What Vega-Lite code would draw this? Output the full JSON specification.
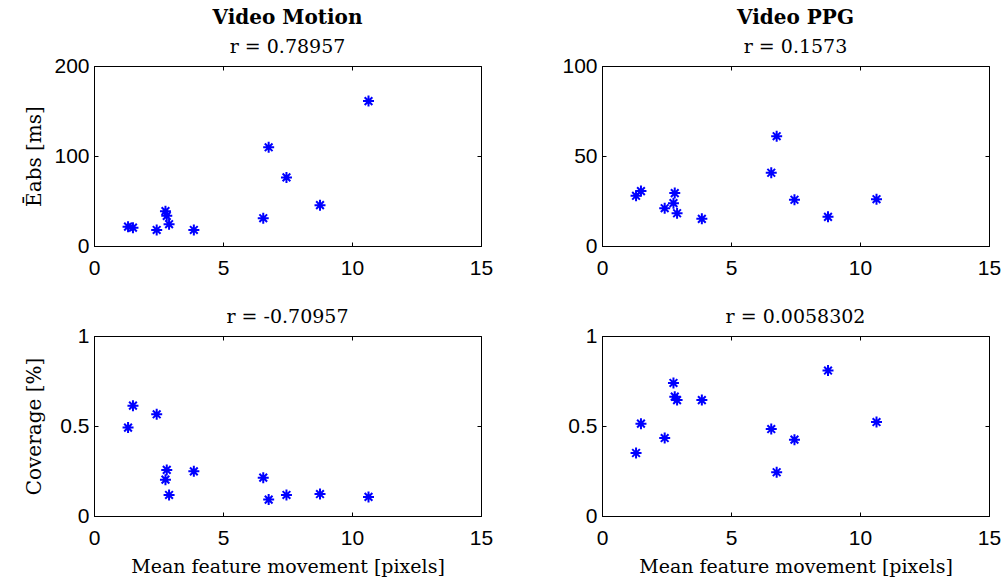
{
  "$schema": "https://vega.github.io/schema/vega-lite/v6.json",
  "background": "white",
  "padding": {"left": 23, "top": 7, "right": 5, "bottom": 2},
  "data": {"values": [
    {"x": 1.32, "em": 21.5, "ep": 27.9, "cm": 0.491, "cp": 0.350},
    {"x": 1.51, "em": 20.4, "ep": 30.5, "cm": 0.613, "cp": 0.513},
    {"x": 2.43, "em": 17.8, "ep": 21.0, "cm": 0.565, "cp": 0.433},
    {"x": 2.77, "em": 38.7, "ep": 23.8, "cm": 0.202, "cp": 0.739},
    {"x": 2.82, "em": 33.5, "ep": 29.4, "cm": 0.256, "cp": 0.663},
    {"x": 2.91, "em": 24.2, "ep": 18.2, "cm": 0.117, "cp": 0.644},
    {"x": 3.87, "em": 17.8, "ep": 15.1, "cm": 0.248, "cp": 0.644},
    {"x": 6.56, "em": 30.9, "ep": 40.7, "cm": 0.213, "cp": 0.483},
    {"x": 6.77, "em": 109.7, "ep": 61.0, "cm": 0.091, "cp": 0.243},
    {"x": 7.46, "em": 76.2, "ep": 25.7, "cm": 0.117, "cp": 0.424},
    {"x": 8.76, "em": 45.4, "ep": 16.2, "cm": 0.122, "cp": 0.808},
    {"x": 10.64, "em": 161.0, "ep": 26.0, "cm": 0.106, "cp": 0.522}
  ]},
  "columns": 2,
  "spacing": {"row": 90, "column": 121},
  "bounds": "flush",
  "concat": [
    {
      "width": 387, "height": 180,
      "title": {"text": "Video Motion", "subtitle": "r = 0.78957"},
      "layer": [
        {
          "mark": {"type": "point", "shape": "M-1,0L1,0M0,-1L0,1M-0.7,-0.7L0.7,0.7M-0.7,0.7L0.7,-0.7", "filled": false, "stroke": "#0000FF", "strokeWidth": 2, "size": 121, "opacity": 1},
          "encoding": {
            "x": {"field": "x", "type": "quantitative", "scale": {"domain": [0, 15], "nice": false, "zero": false}, "axis": {"values": [0, 5, 10, 15], "title": null, "orient": "bottom"}},
            "y": {"field": "em", "type": "quantitative", "scale": {"domain": [0, 200], "nice": false}, "axis": {"values": [0, 100, 200], "title": "Ēabs [ms]", "titleX": -50, "orient": "left"}}
          }
        },
        {
          "mark": {"type": "point", "opacity": 0},
          "encoding": {
            "x": {"field": "x", "type": "quantitative", "axis": {"values": [0, 5, 10, 15], "title": null, "labels": false, "domain": false, "orient": "top"}},
            "y": {"field": "em", "type": "quantitative", "axis": {"values": [0, 100, 200], "title": null, "labels": false, "domain": false, "orient": "right"}}
          }
        }
      ],
      "resolve": {"axis": {"x": "independent", "y": "independent"}}
    },
    {
      "width": 387, "height": 180,
      "title": {"text": "Video PPG", "subtitle": "r = 0.1573"},
      "layer": [
        {
          "mark": {"type": "point", "shape": "M-1,0L1,0M0,-1L0,1M-0.7,-0.7L0.7,0.7M-0.7,0.7L0.7,-0.7", "filled": false, "stroke": "#0000FF", "strokeWidth": 2, "size": 121, "opacity": 1},
          "encoding": {
            "x": {"field": "x", "type": "quantitative", "scale": {"domain": [0, 15], "nice": false, "zero": false}, "axis": {"values": [0, 5, 10, 15], "title": null, "orient": "bottom"}},
            "y": {"field": "ep", "type": "quantitative", "scale": {"domain": [0, 100], "nice": false}, "axis": {"values": [0, 50, 100], "title": null, "orient": "left"}}
          }
        },
        {
          "mark": {"type": "point", "opacity": 0},
          "encoding": {
            "x": {"field": "x", "type": "quantitative", "axis": {"values": [0, 5, 10, 15], "title": null, "labels": false, "domain": false, "orient": "top"}},
            "y": {"field": "ep", "type": "quantitative", "axis": {"values": [0, 50, 100], "title": null, "labels": false, "domain": false, "orient": "right"}}
          }
        }
      ],
      "resolve": {"axis": {"x": "independent", "y": "independent"}}
    },
    {
      "width": 387, "height": 180,
      "title": {"text": "r = -0.70957", "fontWeight": "normal", "fontSize": 19},
      "layer": [
        {
          "mark": {"type": "point", "shape": "M-1,0L1,0M0,-1L0,1M-0.7,-0.7L0.7,0.7M-0.7,0.7L0.7,-0.7", "filled": false, "stroke": "#0000FF", "strokeWidth": 2, "size": 121, "opacity": 1},
          "encoding": {
            "x": {"field": "x", "type": "quantitative", "scale": {"domain": [0, 15], "nice": false, "zero": false}, "axis": {"values": [0, 5, 10, 15], "title": "Mean feature movement [pixels]", "orient": "bottom"}},
            "y": {"field": "cm", "type": "quantitative", "scale": {"domain": [0, 1], "nice": false}, "axis": {"values": [0, 0.5, 1], "title": "Coverage [%]", "titleX": -50, "orient": "left"}}
          }
        },
        {
          "mark": {"type": "point", "opacity": 0},
          "encoding": {
            "x": {"field": "x", "type": "quantitative", "axis": {"values": [0, 5, 10, 15], "title": null, "labels": false, "domain": false, "orient": "top"}},
            "y": {"field": "cm", "type": "quantitative", "axis": {"values": [0, 0.5, 1], "title": null, "labels": false, "domain": false, "orient": "right"}}
          }
        }
      ],
      "resolve": {"axis": {"x": "independent", "y": "independent"}}
    },
    {
      "width": 387, "height": 180,
      "title": {"text": "r = 0.0058302", "fontWeight": "normal", "fontSize": 19},
      "layer": [
        {
          "mark": {"type": "point", "shape": "M-1,0L1,0M0,-1L0,1M-0.7,-0.7L0.7,0.7M-0.7,0.7L0.7,-0.7", "filled": false, "stroke": "#0000FF", "strokeWidth": 2, "size": 121, "opacity": 1},
          "encoding": {
            "x": {"field": "x", "type": "quantitative", "scale": {"domain": [0, 15], "nice": false, "zero": false}, "axis": {"values": [0, 5, 10, 15], "title": "Mean feature movement [pixels]", "orient": "bottom"}},
            "y": {"field": "cp", "type": "quantitative", "scale": {"domain": [0, 1], "nice": false}, "axis": {"values": [0, 0.5, 1], "title": null, "orient": "left"}}
          }
        },
        {
          "mark": {"type": "point", "opacity": 0},
          "encoding": {
            "x": {"field": "x", "type": "quantitative", "axis": {"values": [0, 5, 10, 15], "title": null, "labels": false, "domain": false, "orient": "top"}},
            "y": {"field": "cp", "type": "quantitative", "axis": {"values": [0, 0.5, 1], "title": null, "labels": false, "domain": false, "orient": "right"}}
          }
        }
      ],
      "resolve": {"axis": {"x": "independent", "y": "independent"}}
    }
  ],
  "config": {
    "view": {"stroke": "black", "strokeWidth": 1},
    "axis": {
      "format": "~f", "labelFlush": false,
      "labelFont": "Liberation Sans", "labelFontSize": 21, "labelColor": "black",
      "tickColor": "black", "tickSize": -4, "domainColor": "black", "grid": false,
      "titleFont": "DejaVu Serif", "titleFontSize": 19, "titleFontWeight": "normal", "titleColor": "black", "titlePadding": 9
    },
    "axisX": {"labelPadding": 15},
    "axisY": {"labelPadding": 9, "titleFontSize": 20},
    "title": {
      "font": "DejaVu Serif", "fontSize": 20, "fontWeight": "bold", "color": "black", "anchor": "middle",
      "subtitleFont": "DejaVu Serif", "subtitleFontSize": 19, "subtitleColor": "black", "subtitlePadding": 10, "offset": -2
    }
  }
}
